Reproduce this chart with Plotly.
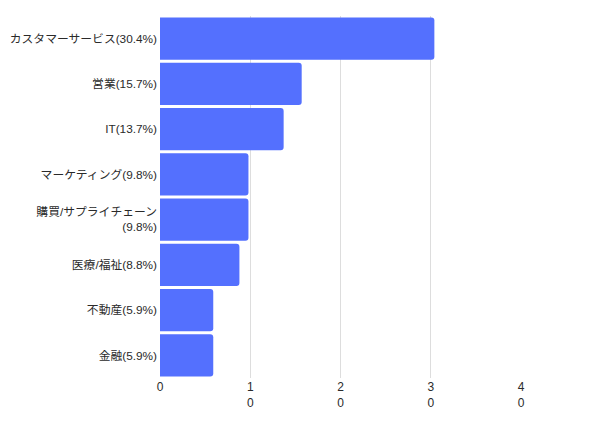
import plotly.graph_objects as go

categories = ["カスタマーサービス(30.4%)", "営業(15.7%)", "IT(13.7%)", "マーケティング(9.8%)",
              "購買/サプライチェーン<br>(9.8%)", "医療/福祉(8.8%)", "不動産(5.9%)", "金融(5.9%)"]
values = [30.4, 15.7, 13.7, 9.8, 9.8, 8.8, 5.9, 5.9]
tick_vals = [0, 10, 20, 30, 40]
tick_text = ["0", "1<br>0", "2<br>0", "3<br>0", "4<br>0"]

fig = go.Figure(go.Bar(
    x=values, y=categories, orientation="h",
    marker=dict(color="#5470FE", cornerradius=3, line=dict(width=0)),
))
fig.update_layout(
    width=600, height=432,
    margin=dict(l=160, r=79, t=16, b=54),
    paper_bgcolor="white", plot_bgcolor="white",
    bargap=0.07,
    showlegend=False,
    font=dict(family="Liberation Sans, Noto Sans CJK JP, sans-serif", size=12, color="#2a2a2a"),
)
fig.update_xaxes(range=[0, 40], tickvals=tick_vals, ticktext=tick_text,
                 showgrid=True, gridcolor="#dddddd", gridwidth=1,
                 zeroline=True, zerolinecolor="rgba(0,0,0,0)", showline=False,
                 automargin=False,
                 tickfont=dict(size=12, color="#2a2a2a"))
fig.update_yaxes(autorange="reversed", showgrid=False, showline=False, zeroline=False,
                 automargin=False,
                 tickfont=dict(size=11.8, color="#2a2a2a"), ticklabelstandoff=2)
fig.write_html("out.html")
